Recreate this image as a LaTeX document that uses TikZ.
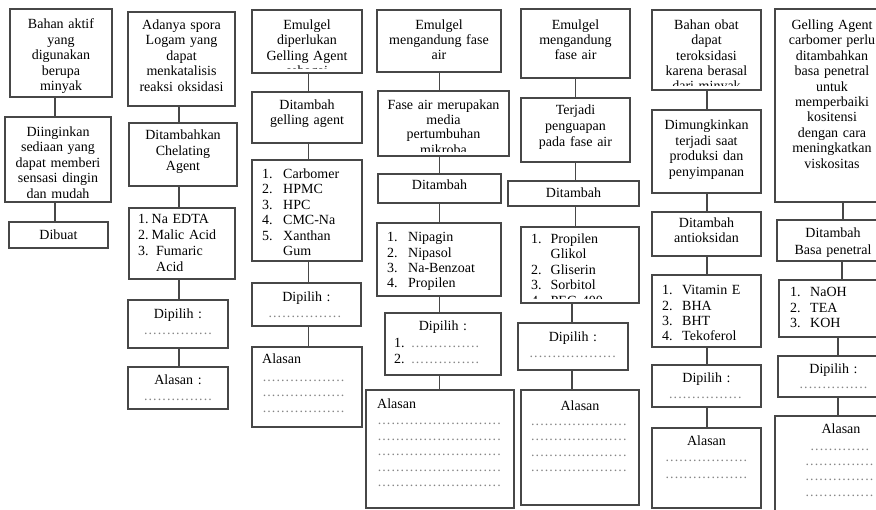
\documentclass[tikz,border=0pt]{standalone}
\usepackage{fontspec}
\setmainfont{Liberation Serif}

\tikzset{
  box/.style={draw=black!72, line width=1.5pt, rectangle, inner sep=0pt, fill=white},
  conn/.style={draw=black!72, line width=1.5pt},
  boxtext/.style={inner sep=0pt, font=\fontsize{14}{15.4}\selectfont, text width=220pt},
  ctext/.style={boxtext, anchor=base, align=center},
  ltext/.style={boxtext, anchor=base west, align=left},
}

% row of grey dots, #1 = width in pt
\newcommand\dotrow[1]{\leavevmode\hbox to #1pt{\color{black!48}\leaders\hbox to 4.6pt{\hss.\hss}\hfill}}
% list number in a fixed-width slot
\newcommand\itemno[2][21]{\makebox[#1pt][l]{#2}}

% box #1 with corners (#2,#3)-(#4,#5); text style #6 placed at #7; text #8 clipped to the box
\newcommand\flowbox[8]{%
  \pgfmathsetmacro\bw{#4-#2}\pgfmathsetmacro\bh{#5-#3}%
  \node[box, minimum width=\bw pt, minimum height=\bh pt] (#1) at ({(#2+#4)/2},{(#3+#5)/2}) {};
  \begin{scope}
    \clip ([xshift=1pt,yshift=5pt]#1.south west) rectangle ([xshift=-1pt,yshift=-1pt]#1.north east);
    \node[#6] (#1-t) at (#7) {#8};
  \end{scope}}
% centred text, first baseline at #6
\newcommand\cbox[7]{\flowbox{#1}{#2}{#3}{#4}{#5}{ctext}{{(#2+#4)/2},#6}{#7}}
% left-aligned text starting at x=#6, first baseline at #7
\newcommand\lbox[8]{\flowbox{#1}{#2}{#3}{#4}{#5}{ltext}{#6,#7}{#8}}
% vertical connector at x=#3
\newcommand\link[3]{\draw[conn] (#1.south -| #3,0) -- (#2.north -| #3,0);}

\begin{document}
\begin{tikzpicture}[x=1pt,y=-1pt]
\fill[white] (0,0) rectangle (876,510);
\useasboundingbox (0,0) rectangle (876,510);

% --- column 1
\cbox{a1}{10}{9}{112}{97}{29}{Bahan aktif\\yang\\digunakan\\berupa\\minyak}
\cbox{a2}{5}{117}{111}{202}{136.5}{Diinginkan\\sediaan yang\\dapat memberi\\sensasi dingin\\dan mudah}
\cbox{a3}{9}{222}{108}{248}{240}{Dibuat}
\link{a1}{a2}{55}
\link{a2}{a3}{55}

% --- column 2
\cbox{b1}{128}{12}{235}{106}{29.5}{Adanya spora\\Logam yang\\dapat\\menkatalisis\\reaksi oksidasi}
\cbox{b2}{129}{123}{237}{186}{140}{Ditambahkan\\Chelating\\Agent}
\lbox{b3}{129}{208}{235}{279}{138}{224}{\fontsize{14}{16}\selectfont
  \itemno[13.5]{1.}Na EDTA\\\itemno[13.5]{2.}Malic Acid\\\itemno[18]{3.}Fumaric\\\itemno[18]{}Acid}
\cbox{b4}{128}{300}{228}{348}{319}{Dipilih :\\\dotrow{69}}
\cbox{b5}{128}{367}{228}{409}{385}{Alasan :\\[0.6pt]\dotrow{69}}
\link{b1}{b2}{179}
\link{b2}{b3}{179}
\link{b3}{b4}{179}
\link{b4}{b5}{179}

% --- column 3
\cbox{c1}{252}{10}{362}{73}{29.3}{Emulgel\\diperlukan\\Gelling Agent\\sebagai}
\cbox{c2}{252}{92}{362}{143}{109.3}{Ditambah\\gelling agent}
\lbox{c3}{252}{160}{362}{261}{262}{178.5}{\fontsize{14}{15.5}\selectfont
  \itemno{1.}Carbomer\\\itemno{2.}HPMC\\\itemno{3.}HPC\\\itemno{4.}CMC-Na\\\itemno{5.}Xanthan\\\itemno{}Gum}
\cbox{c4}{252}{283}{361}{326}{301.7}{Dipilih :\\\dotrow{77}}
\lbox{c5}{252}{347}{362}{427}{262}{364}{Alasan\\[2pt]\dotrow{84}\\\dotrow{84}\\\dotrow{84}}
\link{c1}{c2}{308.5}
\link{c2}{c3}{308.5}
\link{c3}{c4}{308.5}
\link{c4}{c5}{308.5}

% --- column 4
\cbox{d1}{377}{10}{501}{72}{29.3}{\fontsize{14}{15}\selectfont Emulgel\\mengandung fase\\air}
\cbox{d2}{378}{91}{509}{156}{110}{\fontsize{14}{14.5}\selectfont Fase air merupakan\\media\\pertumbuhan\\mikroba}
\cbox{d3}{378}{174}{501}{203}{190}{Ditambah}
\lbox{d4}{377}{223}{501}{296}{387}{242}{\fontsize{14}{15.3}\selectfont
  \itemno{1.}Nipagin\\\itemno{2.}Nipasol\\\itemno{3.}Na-Benzoat\\\itemno{4.}Propilen}
\cbox{d5}{385}{313}{501}{375}{331}{Dipilih :\\[1.6pt]
  \makebox[98pt][l]{\itemno[16.7]{1.}\dotrow{70}}\\
  \makebox[98pt][l]{\itemno[16.7]{2.}\dotrow{70}}}
\lbox{d6}{366}{390}{514}{508}{377}{408.5}{Alasan\\[1.1pt]\dotrow{127}\\\dotrow{127}\\\dotrow{127}\\\dotrow{127}\\\dotrow{127}}
\link{d1}{d2}{439.5}
\link{d2}{d3}{439.5}
\link{d3}{d4}{439.5}
\link{d4}{d5}{439.5}
\link{d5}{d6}{439.5}

% --- column 5
\cbox{e1}{521}{9}{630}{78}{29.3}{\fontsize{14}{15}\selectfont Emulgel\\mengandung\\fase air}
\cbox{e2}{521}{98}{630}{162}{115}{\fontsize{14}{15.8}\selectfont Terjadi\\penguapan\\pada fase air}
\cbox{e3}{508}{181}{639}{206}{198}{Ditambah}
\lbox{e4}{521}{227}{639}{303}{531}{243.3}{\fontsize{14}{15.5}\selectfont
  \itemno[19.5]{1.}Propilen\\\itemno[19.5]{}Glikol\\\itemno[19.5]{2.}Gliserin\\\itemno[19.5]{3.}Sorbitol\\\itemno[19.5]{4.}PEG 400}
\cbox{e5}{518}{323}{628}{370}{342}{Dipilih :\\\dotrow{88}}
\cbox{e6}{521}{390}{639}{505}{411}{Alasan\\[-1pt]\dotrow{99}\\\dotrow{99}\\\dotrow{99}\\\dotrow{99}}
\link{e1}{e2}{575.5}
\link{e2}{e3}{575.5}
\link{e3}{e4}{575.5}
\link{e4}{e5}{572}
\link{e5}{e6}{572}

% --- column 6
\cbox{f1}{652}{10}{761}{90}{29.3}{Bahan obat\\dapat\\teroksidasi\\karena berasal\\dari minyak}
\cbox{f2}{652}{110}{761}{193}{130}{Dimungkinkan\\terjadi saat\\produksi dan\\penyimpanan}
\cbox{f3}{652}{212}{761}{256}{227.5}{Ditambah\\antioksidan}
\lbox{f4}{652}{275}{761}{347}{662}{295}{\fontsize{14}{15.3}\selectfont
  \itemno[20]{1.}Vitamin E\\\itemno[20]{2.}BHA\\\itemno[20]{3.}BHT\\\itemno[20]{4.}Tekoferol}
\cbox{f5}{652}{365}{761}{407}{383}{Dipilih :\\\dotrow{76}}
\cbox{f6}{652}{428}{761}{508}{446}{Alasan\\\dotrow{83}\\[1.8pt]\dotrow{83}}
\link{f1}{f2}{707}
\link{f2}{f3}{707}
\link{f3}{f4}{707}
\link{f4}{f5}{707}
\link{f5}{f6}{707}

% --- column 7 (runs past the right edge)
\cbox{g1}{775}{9}{889}{202}{29.3}{\fontsize{14}{15.44}\selectfont Gelling Agent\\carbomer perlu\\ditambahkan\\basa penetral\\untuk\\memperbaiki\\kositensi\\dengan cara\\meningkatkan\\viskositas}
\cbox{g2}{777}{220}{889}{261}{237.3}{Ditambah\\[1.5pt]Basa penetral}
\lbox{g3}{779}{280}{889}{337}{790}{297}{\fontsize{14}{15.5}\selectfont
  \itemno[20]{1.}NaOH\\\itemno[20]{2.}TEA\\\itemno[20]{3.}KOH}
\cbox{g4}{778}{356}{889}{397}{373.3}{Dipilih :\\\dotrow{69}}
\flowbox{g5}{775}{416}{889}{520}{ctext}{841,433.3}{Alasan\\[1.5pt]\dotrow{62}\\\dotrow{72}\\\dotrow{72}\\\dotrow{72}}
\link{g1}{g2}{843}
\link{g2}{g3}{842}
\link{g3}{g4}{838}
\link{g4}{g5}{838}
\end{tikzpicture}
\end{document}
